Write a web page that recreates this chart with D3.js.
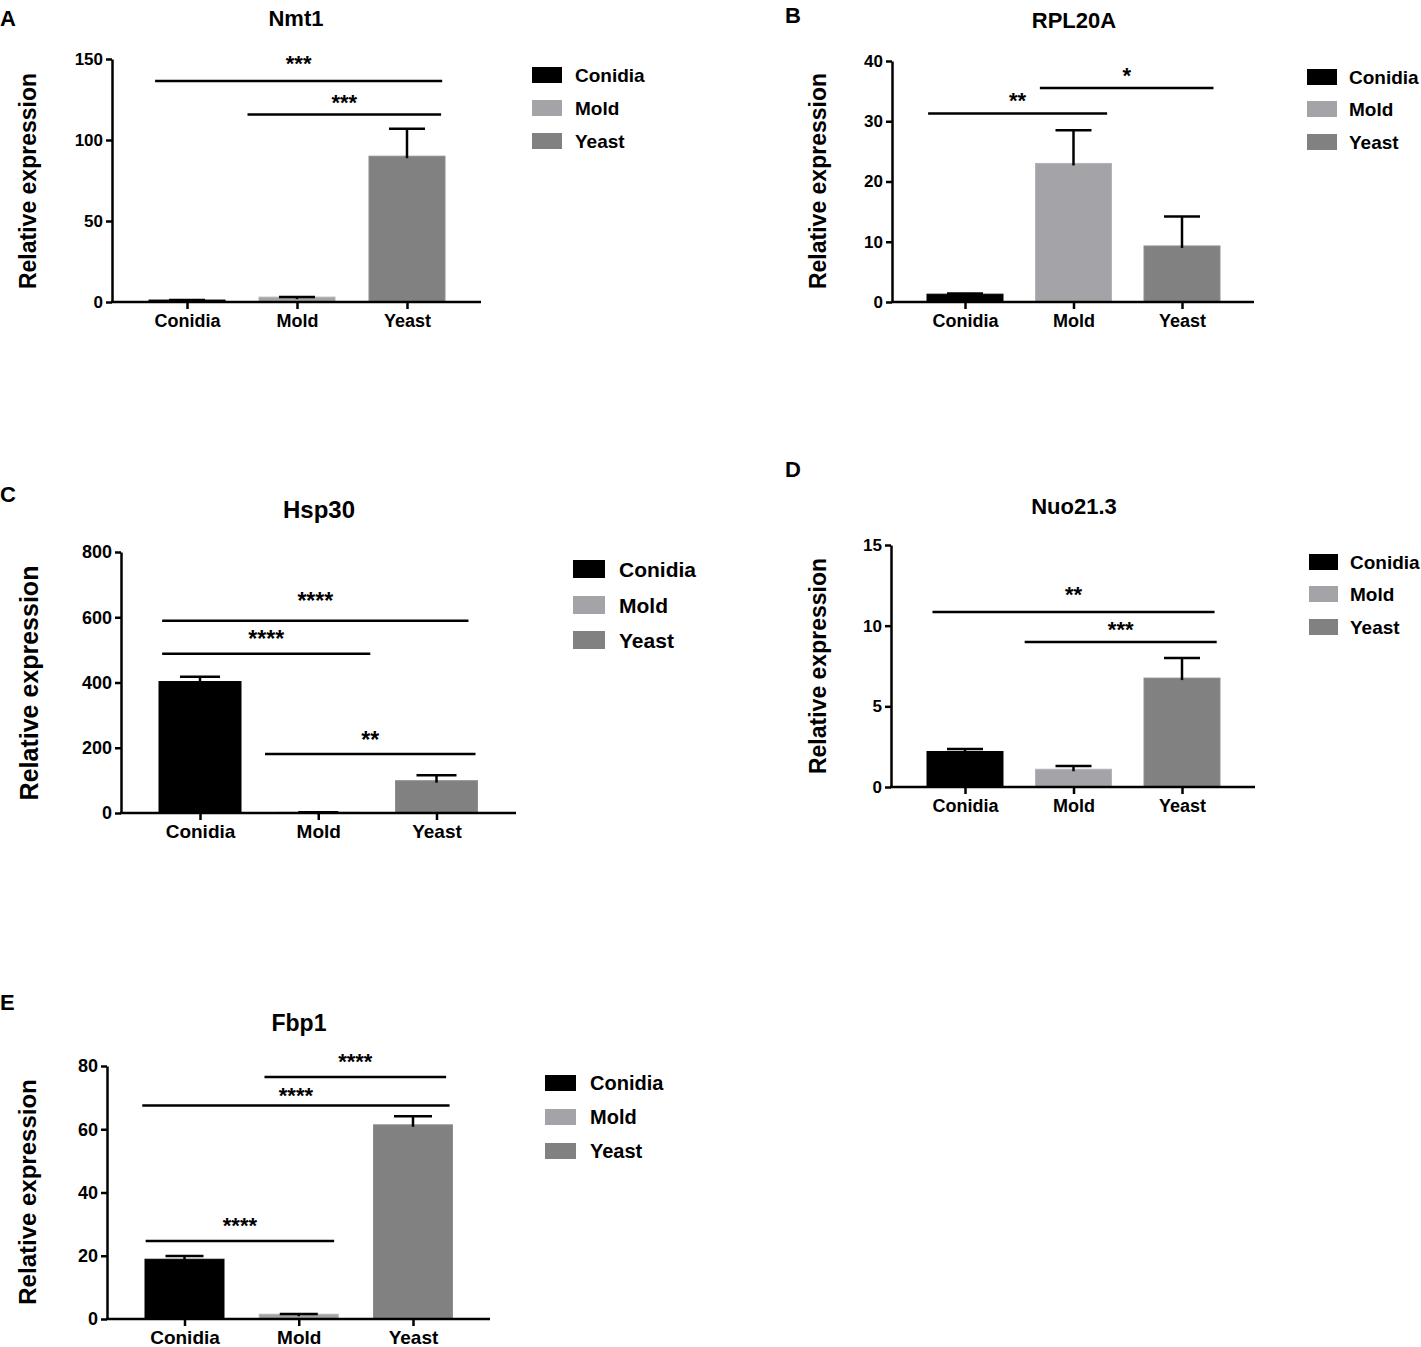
<!DOCTYPE html>
<html>
<head>
<meta charset="utf-8">
<script src="https://cdn.jsdelivr.net/npm/d3@7/dist/d3.min.js"></script>
<style>
  html, body { margin: 0; padding: 0; background: #fff; }
  svg { display: block; font-family: "Liberation Sans", Arial, sans-serif; font-weight: bold; }
</style>
</head>
<body>
<svg id="chart" width="1421" height="1347"></svg>
<script>
// ---------------- DATA ----------------
const categories = ["Conidia", "Mold", "Yeast"];
const genes = ["Nmt1", "RPL20A", "Hsp30", "Nuo21.3", "Fbp1"];
const panelLetters = ["A", "B", "C", "D", "E"];
const yAxisLabel = "Relative expression";

const nmt1Mean = [1.2, 3.0, 90];
const nmt1Err = [0.1, 0.1, 17];
const nmt1Ticks = [0, 50, 100, 150];
const nmt1Sig = [[0, 2, 136.4, "***"], [1, 2, 115.7, "***"]];

const rpl20aMean = [1.3, 23.0, 9.3];
const rpl20aErr = [0.1, 5.5, 4.9];
const rpl20aTicks = [0, 10, 20, 30, 40];
const rpl20aSig = [[0, 1, 31.3, "**"], [1, 2, 35.5, "*"]];

const hsp30Mean = [403, 2, 99];
const hsp30Err = [15, 0.5, 17];
const hsp30Ticks = [0, 200, 400, 600, 800];
const hsp30Sig = [[0, 2, 589, "****"], [0, 1, 488, "****"], [1, 2, 181, "**"]];

const nuoMean = [2.2, 1.1, 6.75];
const nuoErr = [0.15, 0.2, 1.25];
const nuoTicks = [0, 5, 10, 15];
const nuoSig = [[0, 2, 10.84, "**"], [1, 2, 8.98, "***"]];

const fbp1Mean = [18.9, 1.5, 61.4];
const fbp1Err = [1.0, 0.1, 2.7];
const fbp1Ticks = [0, 20, 40, 60, 80];
const fbp1Sig = [[1, 2, 76.5, "****"], [0, 2, 67.5, "****"], [0, 1, 24.7, "****"]];

const barColors = ["#000000", "#a4a4a8", "#818181"];

// ---------------- LAYOUT ----------------
// sigOff: [start offset (steps), end offset (steps), star centre height above line (px)]
const layouts = [
  { mean: nmt1Mean, err: nmt1Err, ticks: nmt1Ticks, sig: nmt1Sig,
    sigOff: [[-0.29, 0.32, 19], [-0.45, 0.31, 14]],
    ax: 112, yTop: 59, yBot: 302, xEnd: 481, c0: 187, c2: 407, barW: 76, capW: 36,
    titleX: 296, titleY: 26, letterX: 0, letterY: 26,
    legX: 532, legRows: [75, 108, 141], legW: 30, legH: 16, legTextX: 575,
    yLabX: 36, yLabY: 181, fs: { tick: 17, cat: 18, leg: 19, title: 22, ylab: 23, star: 22, letter: 22 } },
  { mean: rpl20aMean, err: rpl20aErr, ticks: rpl20aTicks, sig: rpl20aSig,
    sigOff: [[-0.34, 0.31, 15], [-0.31, 0.29, 14]],
    ax: 892, yTop: 61, yBot: 302, xEnd: 1254, c0: 965, c2: 1182, barW: 76, capW: 36,
    titleX: 1074, titleY: 28, letterX: 785, letterY: 23,
    legX: 1307, legRows: [77, 109, 142], legW: 30, legH: 16, legTextX: 1349,
    yLabX: 826, yLabY: 181, fs: { tick: 17, cat: 18, leg: 19, title: 22, ylab: 23, star: 22, letter: 22 } },
  { mean: hsp30Mean, err: hsp30Err, ticks: hsp30Ticks, sig: hsp30Sig,
    sigOff: [[-0.32, 0.27, 21], [-0.32, 0.44, 16], [-0.45, 0.33, 16]],
    ax: 121, yTop: 552, yBot: 813, xEnd: 516, c0: 200, c2: 436.5, barW: 82, capW: 40,
    titleX: 319, titleY: 518, letterX: 0, letterY: 502,
    legX: 573, legRows: [569, 605, 640], legW: 32, legH: 18, legTextX: 619,
    yLabX: 38, yLabY: 683, fs: { tick: 18, cat: 19, leg: 21, title: 24, ylab: 25, star: 23, letter: 22 } },
  { mean: nuoMean, err: nuoErr, ticks: nuoTicks, sig: nuoSig,
    sigOff: [[-0.30, 0.30, 19], [-0.45, 0.32, 14]],
    ax: 891, yTop: 545, yBot: 787, xEnd: 1255, c0: 965, c2: 1182, barW: 76, capW: 36,
    titleX: 1074, titleY: 514, letterX: 785, letterY: 477,
    legX: 1309, legRows: [562, 594, 627], legW: 29, legH: 16, legTextX: 1350,
    yLabX: 826, yLabY: 666, fs: { tick: 17, cat: 18, leg: 19, title: 22, ylab: 23, star: 22, letter: 22 } },
  { mean: fbp1Mean, err: fbp1Err, ticks: fbp1Ticks, sig: fbp1Sig,
    sigOff: [[-0.30, 0.29, 17], [-0.37, 0.32, 12], [-0.34, 0.31, 17]],
    ax: 107, yTop: 1066, yBot: 1319, xEnd: 490, c0: 184.5, c2: 413, barW: 79, capW: 38,
    titleX: 299, titleY: 1031, letterX: 0, letterY: 1010,
    legX: 545, legRows: [1083, 1117, 1151], legW: 31, legH: 16, legTextX: 590,
    yLabX: 36, yLabY: 1192, fs: { tick: 18, cat: 19, leg: 20, title: 23, ylab: 24, star: 22, letter: 22 } }
];

const svg = d3.select("#chart");
const SW = 2.5;

layouts.forEach((L, pi) => {
  const g = svg.append("g");
  const maxTick = L.ticks[L.ticks.length - 1];
  const y = d3.scaleLinear().domain([0, maxTick]).range([L.yBot, L.yTop]);
  const x = d3.scalePoint().domain(categories).range([L.c0, L.c2]);
  const step = (L.c2 - L.c0) / (categories.length - 1);

  g.append("text").attr("x", L.letterX).attr("y", L.letterY)
    .attr("font-size", L.fs.letter).text(panelLetters[pi]);
  g.append("text").attr("x", L.titleX).attr("y", L.titleY)
    .attr("text-anchor", "middle").attr("font-size", L.fs.title).text(genes[pi]);
  g.append("text")
    .attr("transform", `translate(${L.yLabX},${L.yLabY}) rotate(-90)`)
    .attr("text-anchor", "middle").attr("font-size", L.fs.ylab).text(yAxisLabel);

  // bars
  g.selectAll("rect.bar").data(categories).enter().append("rect")
    .attr("class", "bar")
    .attr("x", d => x(d) - L.barW / 2)
    .attr("width", L.barW)
    .attr("y", (d, i) => y(L.mean[i]))
    .attr("height", (d, i) => L.yBot - y(L.mean[i]))
    .attr("fill", (d, i) => barColors[i])
    .attr("stroke", (d, i) => i === 0 ? "#000" : d3.color(barColors[i]).brighter(0.25))
    .attr("stroke-width", 1);

  // error bars
  categories.forEach((c, i) => {
    const cx = x(c);
    const top = y(L.mean[i] + L.err[i]);
    g.append("line").attr("x1", cx).attr("x2", cx)
      .attr("y1", y(L.mean[i]) + 2).attr("y2", top)
      .attr("stroke", "#000").attr("stroke-width", SW);
    g.append("line").attr("x1", cx - L.capW / 2).attr("x2", cx + L.capW / 2)
      .attr("y1", top).attr("y2", top)
      .attr("stroke", "#000").attr("stroke-width", SW);
  });

  // y axis
  const yAxis = d3.axisLeft(y).tickValues(L.ticks).tickSize(6).tickSizeOuter(0).tickPadding(3);
  const ya = g.append("g").attr("transform", `translate(${L.ax},0)`).call(yAxis);
  ya.select(".domain").attr("stroke-width", SW);
  ya.selectAll(".tick line").attr("stroke-width", SW);
  ya.selectAll(".tick text").attr("font-size", L.fs.tick).attr("font-family", null)
    .attr("font-weight", "bold").attr("fill", "#000");

  // x axis
  const xAxis = d3.axisBottom(x).tickSize(7).tickSizeOuter(0).tickPadding(5);
  const xa = g.append("g").attr("transform", `translate(0,${L.yBot})`).call(xAxis);
  xa.select(".domain").remove();
  xa.selectAll(".tick line").attr("stroke-width", SW);
  xa.selectAll(".tick text").attr("font-size", L.fs.cat).attr("font-family", null)
    .attr("font-weight", "bold").attr("fill", "#000");
  g.append("line").attr("x1", L.ax - 1).attr("x2", L.xEnd)
    .attr("y1", L.yBot).attr("y2", L.yBot)
    .attr("stroke", "#000").attr("stroke-width", SW);

  // significance annotations
  L.sig.forEach((s, k) => {
    const [a, b, lvl, label] = s;
    const [o1, o2, starUp] = L.sigOff[k];
    const x1 = x(categories[a]) + o1 * step;
    const x2 = x(categories[b]) + o2 * step;
    const ly = y(lvl);
    g.append("line").attr("x1", x1).attr("x2", x2).attr("y1", ly).attr("y2", ly)
      .attr("stroke", "#000").attr("stroke-width", SW);
    g.append("text").attr("x", (x1 + x2) / 2).attr("y", ly - starUp + 0.42 * L.fs.star)
      .attr("text-anchor", "middle").attr("font-size", L.fs.star).text(label);
  });

  // legend
  categories.forEach((c, i) => {
    const ry = L.legRows[i];
    g.append("rect").attr("x", L.legX).attr("y", ry - L.legH / 2)
      .attr("width", L.legW).attr("height", L.legH).attr("fill", barColors[i]);
    g.append("text").attr("x", L.legTextX).attr("y", ry)
      .attr("dy", "0.36em").attr("font-size", L.fs.leg).text(c);
  });
});
</script>
</body>
</html>
